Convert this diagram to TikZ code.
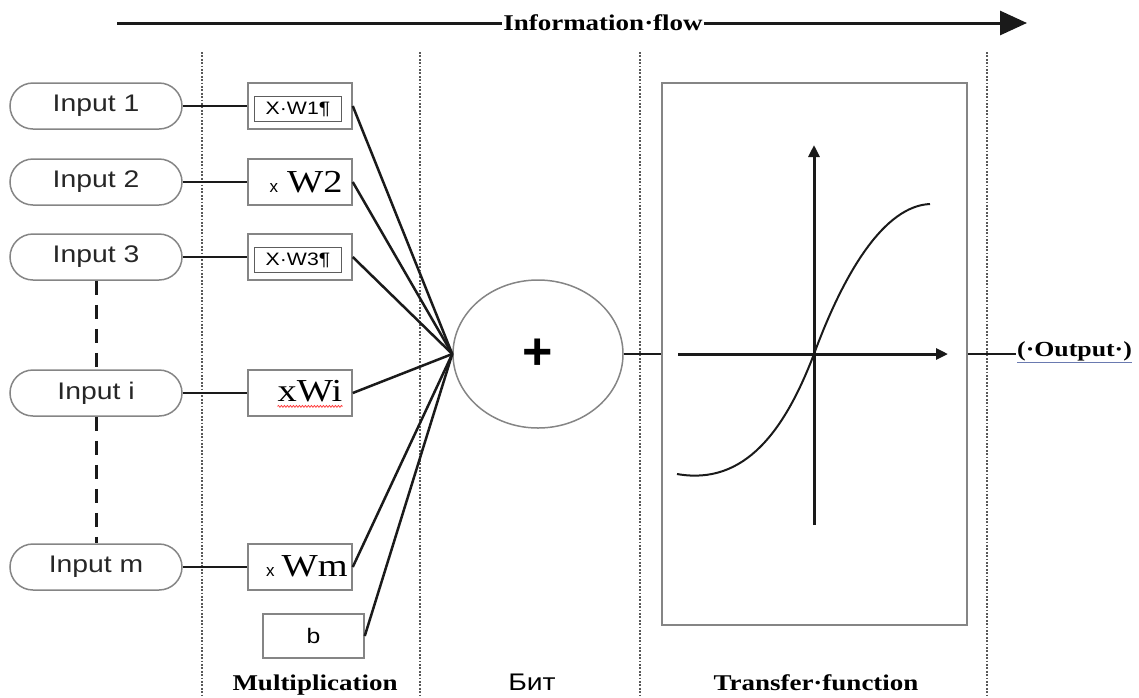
\documentclass[tikz,border=0pt]{standalone}
\usepackage{fontspec}
\setmainfont{Liberation Serif}
\newfontfamily\arialf[FakeStretch=1.18]{Liberation Sans}
\newfontfamily\arialn{Liberation Sans}
\newfontfamily\timesf[FakeStretch=1.2]{Liberation Serif}
\usetikzlibrary{arrows.meta,shapes.geometric,decorations.pathmorphing}
\definecolor{boxgray}{HTML}{858585}
\definecolor{ink}{HTML}{1A1A1A}
\definecolor{ulblue}{HTML}{6A7AB0}
\begin{document}
\begin{tikzpicture}[x=1pt,y=-1pt,
  inp/.style={draw=boxgray, line width=1.5pt, rounded corners=23pt,
    minimum width=172pt, minimum height=46pt, inner sep=0pt,
    text=black!85, font=\arialf\fontsize{24}{24}\selectfont},
  mbox/.style={draw=boxgray, line width=1.5pt, minimum width=104pt,
    minimum height=46pt, inner sep=0pt},
  ibox/.style={draw=boxgray!70!black, line width=1.2pt, minimum width=87pt,
    minimum height=25pt, inner sep=0pt, font=\arialf\fontsize{18}{18}\selectfont},
  wire/.style={draw=ink, line width=2.5pt},
  dotline/.style={draw=black!65, line width=1.9pt, dash pattern=on 1.8pt off 1.6pt},
  dashline/.style={draw=ink, line width=3pt, dash pattern=on 14pt off 10pt},
  axisline/.style={draw=ink, line width=3pt, -{Triangle[length=12pt,width=11pt]}},
  headfont/.style={font=\timesf\bfseries\fontsize{22.5}{24}\selectfont, inner sep=1pt},
  wfont/.style={inner sep=0pt}
]
\useasboundingbox (0,0) rectangle (1139,697);

% dotted column separators
\foreach \n/\x in {a/202,b/420,c/640,d/987}{
  \coordinate (dt\n) at (\x,52);
  \coordinate (db\n) at (\x,697);
  \draw[dotline] (dt\n) -- (db\n);
}

% information flow arrow
\node[headfont] (info) at (603,23) {Information·flow};
\coordinate (fl) at (117,23);
\coordinate (fr) at (1027,23);
\draw[ink, line width=3pt] (fl) -- (info.west);
\draw[ink, line width=3pt, -{Triangle[length=27pt,width=24pt]}] (info.east) -- (fr);

% inputs
\node[inp] (in1) at (96,106) {Input 1};
\node[inp] (in2) at (96,182) {Input 2};
\node[inp] (in3) at (96,257) {Input 3};
\node[inp] (ini) at (96,393) {Input i};
\node[inp] (inm) at (96,567) {Input m};
\draw[dashline] (in3.south) -- (ini.north);
\draw[dashline] (ini.south) -- (inm.north);

% multiplication boxes
\node[mbox] (m1) at (300,106) {};
\node[ibox] (i1) at (298,109) {X·W1¶};
\node[mbox] (m2) at (300,182) {};
\node[wfont] (t2) at (306,182) {{\arialn\fontsize{17}{17}\selectfont x}\hspace{9pt}{\timesf\fontsize{32}{32}\selectfont W2}};
\node[mbox] (m3) at (300,257) {};
\node[ibox] (i3) at (298,260) {X·W3¶};
\node[mbox] (mi) at (300,393) {};
\node[wfont] (ti) at (310,391) {\timesf\fontsize{32}{32}\selectfont xWi};
\draw[red!75, line width=0.8pt, decorate, decoration={snake, amplitude=0.9pt, segment length=3pt}]
  ([yshift=-5pt]ti.base west) -- ([yshift=-5pt]ti.base east);
\node[mbox] (mm) at (300,567) {};
\node[wfont] (tm) at (307,566) {{\arialn\fontsize{17}{17}\selectfont x}\hspace{7pt}{\timesf\fontsize{32}{32}\selectfont Wm}};
\node[mbox, minimum width=101pt, minimum height=44pt,
  font=\arialf\fontsize{21}{21}\selectfont] (bb) at (313.5,636) {b};

\draw[wire] (in1.east) -- (m1.west);
\draw[wire] (in2.east) -- (m2.west);
\draw[wire] (in3.east) -- (m3.west);
\draw[wire] (ini.east) -- (mi.west);
\draw[wire] (inm.east) -- (mm.west);

% summation
\node[draw=boxgray, line width=1.5pt, ellipse, minimum width=170pt, minimum height=148pt,
  inner sep=0pt, font=\arialn\bfseries\fontsize{52}{52}\selectfont] (sum) at (538,354) {+};
\foreach \b in {m1,m2,m3,mi,mm,bb}{
  \draw[wire] (\b.east) -- (sum.west);
}

% transfer function
\node[draw=boxgray, line width=1.8pt, minimum width=305pt, minimum height=542pt, inner sep=0pt] (tf) at (814.5,354) {};
\draw[wire] (sum.east) -- (tf.west);
\coordinate (hx0) at (678,354);
\coordinate (hx1) at (948,354);
\coordinate (vy0) at (814,525);
\coordinate (vy1) at (814,145);
\draw[axisline] (hx0) -- (hx1);
\draw[axisline] (vy0) -- (vy1);
\draw[ink, line width=2pt] (677,474) .. controls (745,486) and (785,430) .. (814,354)
  .. controls (845,270) and (885,206) .. (930,204);

% output
\node[headfont, anchor=base west, font=\timesf\bfseries\fontsize{21.5}{24}\selectfont] (out) at (1016,356) {{\color{ulblue}\underline{\color{black}(·Output·)}}};
\draw[wire] (tf.east) -- (tf.east -| out.west);

% bottom labels
\node[headfont, anchor=base] (lmul) at (315,690) {Multiplication};
\node[anchor=base, inner sep=1pt, font=\arialf\fontsize{24}{24}\selectfont, text=black] (lbit) at (532,690) {Бит};
\node[headfont, anchor=base] (ltf) at (816,690) {Transfer·function};
\end{tikzpicture}
\end{document}
